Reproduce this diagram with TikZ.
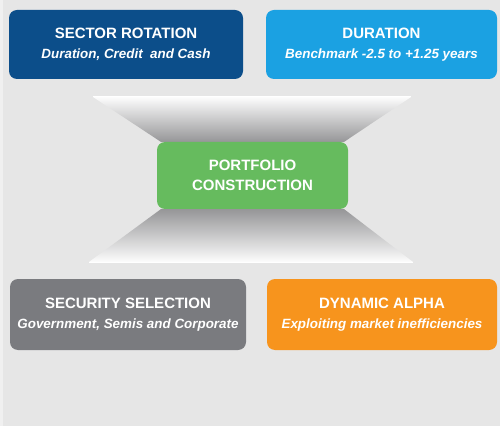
\documentclass[tikz,border=0pt]{standalone}
\usepackage{fontspec}
\setmainfont{Liberation Sans}
\usetikzlibrary{calc,backgrounds}

\definecolor{canvas}{RGB}{230,230,230}
\definecolor{sectorblue}{RGB}{12,78,138}
\definecolor{durationblue}{RGB}{27,161,226}
\definecolor{portfoliogreen}{RGB}{102,187,94}
\definecolor{securitygray}{RGB}{122,123,127}
\definecolor{alphaorange}{RGB}{247,148,29}
\definecolor{funnelgray}{RGB}{150,150,152}

\tikzset{
    card/.style={rounded corners=8pt,inner sep=0pt,text=white,align=center,
        font=\fontsize{15pt}{20pt}\selectfont\bfseries,
        minimum width=232pt,minimum height=70pt},
}

\begin{document}
\begin{tikzpicture}[x=1pt,y=1pt]
    \pgfmathsetmacro{\picwidth}{500}
    \pgfmathsetmacro{\picheight}{426}
    \providecommand{\subfont}{\fontsize{13.4pt}{20pt}\selectfont\itshape}
    \useasboundingbox (0,0) rectangle (\picwidth,\picheight);
    % centre box, the funnels hang off its corners
    \node[card,fill=portfoliogreen,minimum width=191pt,minimum height=67pt] (portfolio) at (252.5,250.5)
        {PORTFOLIO\\CONSTRUCTION};
    \coordinate (topleft) at (93,329);
    \coordinate (topright) at (411,329);
    \coordinate (botleft) at (89,164);
    \coordinate (botright) at (413,164);
    \begin{pgfonlayer}{background}
        \fill[canvas] (0,0) rectangle (\picwidth,\picheight);
        \fill[white,opacity=0.4] (0,0) rectangle (3,\picheight);
        \shade[top color=white!90!canvas,bottom color=funnelgray] (topleft) -- (topright)
            -- ($(portfolio.north east)+(-4,0)$) -- ($(portfolio.north west)+(4,0)$) -- cycle;
        \shade[top color=funnelgray,bottom color=white!90!canvas] ($(portfolio.south west)+(4,0)$)
            -- ($(portfolio.south east)+(-4,0)$) -- (botright) -- (botleft) -- cycle;
        \draw[white,line width=1pt] (topleft) -- (topright);
        \draw[white,line width=1pt] (botleft) -- (botright);
    \end{pgfonlayer}
    % four corner boxes
    \node[card,fill=sectorblue,minimum width=234pt,minimum height=69pt] (sector) at (126,381.5)
        {SECTOR ROTATION\\\subfont Duration, Credit\ \ and Cash};
    \node[card,fill=durationblue,minimum width=231pt,minimum height=69pt] (duration) at (381.5,381.5)
        {DURATION\\\subfont Benchmark -2.5 to +1.25 years};
    \node[card,fill=securitygray,minimum width=236pt,minimum height=71pt] (security) at (128,111.5)
        {SECURITY SELECTION\\\subfont Government, Semis and Corporate};
    \node[card,fill=alphaorange,minimum width=230pt,minimum height=71pt] (alpha) at (382,111.5)
        {DYNAMIC ALPHA\\\subfont Exploiting market inefficiencies};
\end{tikzpicture}
\end{document}
